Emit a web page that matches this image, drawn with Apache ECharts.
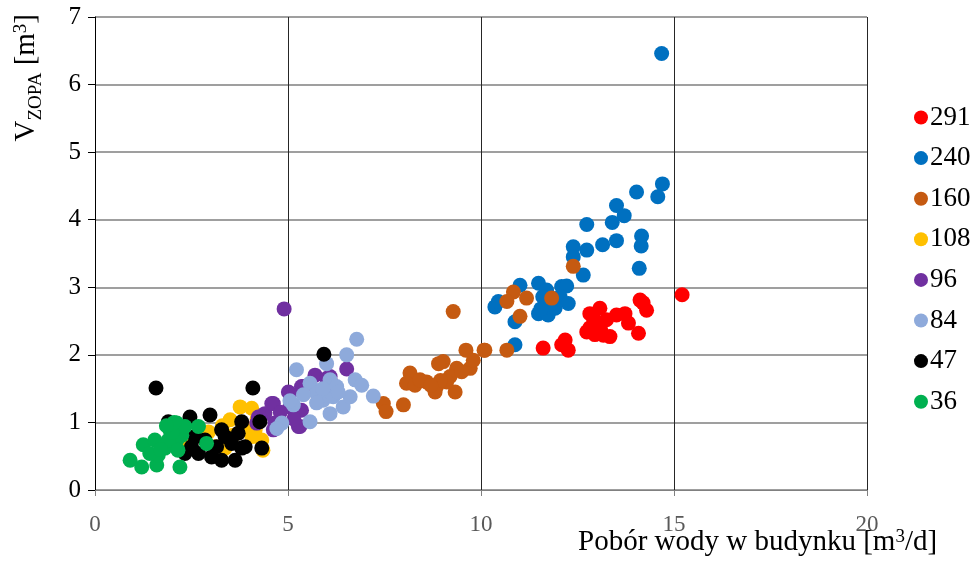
<!DOCTYPE html>
<html>
<head>
<meta charset="utf-8">
<script src="https://cdn.jsdelivr.net/npm/echarts@6/dist/echarts.min.js"></script>
<style>
  html, body { margin: 0; padding: 0; background: #fff; }
  #main { width: 976px; height: 567px; }
</style>
</head>
<body>
<div id="main"></div>
<script>
    var legendNames = ['291', '240', '160', '108', '96', '84', '47', '36'];
    var colors = ['#ff0000', '#0070c0', '#c55a11', '#ffc000', '#7030a0', '#8eaadb', '#000000', '#00b050'];
    var xTicks = [0, 5, 10, 15, 20];
    var yTicks = [0, 1, 2, 3, 4, 5, 6, 7];

    // [pobor wody, V_ZOPA]
    var s291 = [[11.61, 2.10], [12.18, 2.22], [12.26, 2.07], [12.09, 2.15], [12.82, 2.61], [13.08, 2.69],
        [12.74, 2.34], [13.17, 2.29], [13.0, 2.47], [13.25, 2.52], [13.51, 2.59], [13.73, 2.61],
        [13.82, 2.47], [14.08, 2.32], [14.12, 2.81], [14.29, 2.66], [14.2, 2.77], [12.9, 2.56],
        [13.34, 2.27], [12.82, 2.40], [13.1, 2.38], [12.95, 2.3], [15.21, 2.89]];
    var s240 = [[14.68, 6.46], [14.7, 4.53], [14.58, 4.34], [14.03, 4.41], [13.51, 4.21], [13.71, 4.06],
        [13.4, 3.96], [12.74, 3.93], [14.16, 3.76], [14.15, 3.61], [13.51, 3.69], [13.15, 3.63],
        [12.74, 3.55], [14.1, 3.28], [12.65, 3.18], [12.39, 3.6], [12.39, 3.45], [10.36, 2.71],
        [10.45, 2.79], [11.01, 3.03], [11.49, 3.06], [11.7, 2.96], [12.09, 3.01], [12.22, 3.02],
        [12.05, 2.86], [12.26, 2.76], [11.49, 2.61], [11.74, 2.59], [11.92, 2.69], [11.66, 2.71],
        [10.88, 2.49], [10.88, 2.15], [11.6, 2.86], [11.8, 2.75], [11.55, 2.68]];
    var s160 = [[10.84, 2.93], [10.67, 2.79], [11.18, 2.84], [11.83, 2.84], [11.01, 2.57], [12.39, 3.31],
        [10.1, 2.07], [10.67, 2.07], [9.28, 2.64], [9.61, 2.07], [10.08, 2.07], [8.16, 1.73],
        [8.07, 1.58], [8.29, 1.55], [8.85, 1.53], [9.02, 1.90], [8.9, 1.87], [9.37, 1.80],
        [9.2, 1.68], [9.72, 1.80], [9.8, 1.92], [9.33, 1.45], [8.81, 1.45], [8.59, 1.60],
        [7.99, 1.26], [7.47, 1.28], [7.54, 1.16], [9.11, 1.60], [8.42, 1.63], [8.95, 1.62],
        [9.5, 1.75], [8.7, 1.55]];
    var s108 = [[3.76, 1.23], [4.06, 1.21], [3.5, 1.04], [4.06, 0.79], [3.11, 0.64], [2.59, 0.79],
        [2.94, 0.86], [2.8, 0.79], [3.37, 0.62], [4.15, 0.89], [4.32, 0.74], [4.35, 0.59],
        [3.93, 0.91], [2.25, 0.69], [3.58, 0.81], [3.3, 0.95], [4.2, 1.05]];
    var s96 = [[4.9, 2.68], [6.52, 1.79], [5.7, 1.70], [6.0, 1.65], [5.01, 1.45], [5.35, 1.53],
        [4.62, 1.28], [4.4, 1.13], [4.66, 0.99], [5.27, 0.94], [5.35, 1.18], [5.05, 1.23],
        [6.13, 1.58], [4.58, 1.28], [4.23, 1.08], [4.19, 0.99], [5.05, 1.43], [4.27, 1.08],
        [4.62, 0.89], [5.31, 0.94], [5.4, 1.53], [6.09, 1.68], [4.8, 1.15], [5.15, 1.05]];
    var s84 = [[6.78, 2.23], [6.52, 2.0], [6.0, 1.87], [5.22, 1.78], [5.57, 1.58], [6.09, 1.63],
        [6.26, 1.53], [6.74, 1.63], [6.91, 1.55], [7.21, 1.39], [6.43, 1.23], [6.09, 1.13],
        [5.57, 1.01], [5.14, 1.26], [4.84, 0.99], [5.74, 1.43], [5.91, 1.33], [6.61, 1.38],
        [6.17, 1.38], [5.4, 1.41], [5.05, 1.32], [4.71, 0.91], [5.74, 1.29], [6.3, 1.45],
        [5.9, 1.5]];
    var s47 = [[1.58, 1.51], [4.09, 1.51], [5.93, 2.01], [1.9, 1.01], [2.46, 1.08], [2.98, 1.11],
        [3.28, 0.89], [3.37, 0.79], [3.8, 1.01], [3.71, 0.84], [4.27, 1.01], [4.32, 0.62],
        [3.8, 0.62], [3.63, 0.44], [3.28, 0.44], [3.02, 0.49], [2.68, 0.54], [2.5, 0.64],
        [2.33, 0.54], [3.15, 0.64], [3.54, 0.69], [3.89, 0.64], [2.59, 0.79], [2.85, 0.74]];
    var s36 = [[0.91, 0.44], [1.21, 0.34], [1.6, 0.37], [2.2, 0.34], [1.25, 0.67], [1.55, 0.74],
        [1.81, 0.62], [2.12, 0.99], [1.94, 0.89], [2.25, 0.81], [2.68, 0.94], [2.89, 0.69],
        [1.64, 0.52], [1.42, 0.54], [2.12, 0.74], [1.9, 0.74], [2.33, 0.94], [2.15, 0.59],
        [1.7, 0.6], [2.0, 0.85], [2.05, 1.0], [1.85, 0.95]];
    var seriesData = [s291, s240, s160, s108, s96, s84, s47, s36];

    var serif = '"Liberation Serif", "DejaVu Serif", serif';
    var myChart = echarts.init(document.getElementById('main'));

    var series = legendNames.map(function (name, i) {
        return {
            name: name,
            type: 'scatter',
            symbol: 'circle',
            symbolSize: 15,
            itemStyle: { color: colors[i], opacity: 1 },
            data: seriesData[i]
        };
    });

    var option = {
        animation: false,
        backgroundColor: '#fff',
        grid: { left: 95, right: 109, top: 17, bottom: 77, containLabel: false },
        legend: {
            orient: 'vertical',
            left: 909,
            top: 99,
            itemWidth: 14,
            itemHeight: 14,
            itemGap: 13.6,
            icon: 'circle',
            textStyle: { fontFamily: serif, fontSize: 27, color: '#000', padding: [0, 0, 0, -3] },
            data: legendNames
        },
        xAxis: {
            type: 'value',
            min: 0, max: 20, interval: 5,
            axisLine: { show: true, lineStyle: { color: '#808080', width: 1 } },
            axisTick: { show: true, length: 6, lineStyle: { color: '#808080' } },
            axisLabel: { fontFamily: serif, fontSize: 23, color: '#595959', margin: 23 },
            splitLine: { show: true, lineStyle: { color: '#262626', width: 1 } }
        },
        yAxis: {
            type: 'value',
            min: 0, max: 7, interval: 1,
            axisLine: { show: true, lineStyle: { color: '#000', width: 1 } },
            axisTick: { show: true, length: 7, lineStyle: { color: '#000' } },
            axisLabel: { fontFamily: serif, fontSize: 25, color: '#000', margin: 14 },
            splitLine: { show: true, lineStyle: { color: '#7f7f7f', width: 1.5 } }
        },
        graphic: [
            {
                type: 'text',
                left: 12,
                top: 14,
                rotation: Math.PI / 2,
                originX: 0, originY: 0,
                style: {
                    text: '{a|V}{b|ZOPA}{a| [m}{c|3}{a|]}',
                    rich: {
                        a: { fontFamily: serif, fontSize: 29, fill: '#000', verticalAlign: 'bottom' },
                        b: { fontFamily: serif, fontSize: 19, fill: '#000', verticalAlign: 'bottom', padding: [0, 0, -5, 0] },
                        c: { fontFamily: serif, fontSize: 19, fill: '#000', verticalAlign: 'top' }
                    }
                }
            },
            {
                type: 'text',
                left: 578,
                top: 528,
                style: {
                    text: '{a|Pobór wody w budynku [m}{c|3}{a|/d]}',
                    rich: {
                        a: { fontFamily: serif, fontSize: 29, fill: '#000', verticalAlign: 'bottom' },
                        c: { fontFamily: serif, fontSize: 19, fill: '#000', verticalAlign: 'top' }
                    }
                }
            }
        ],
        series: series
    };

    myChart.setOption(option);
</script>
</body>
</html>
